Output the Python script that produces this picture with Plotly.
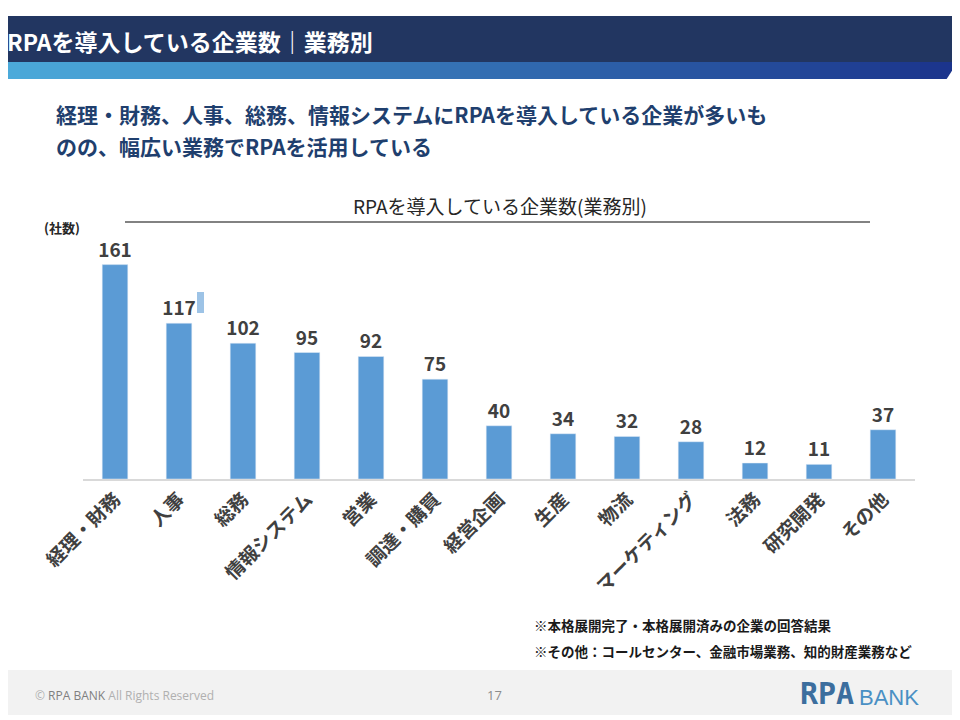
import plotly.graph_objects as go

# data
categories = ["経理・財務", "人事", "総務", "情報システム", "営業", "調達・購買", "経営企画",
              "生産", "物流", "マーケティング", "法務", "研究開発", "その他"]
companies = [161, 117, 102, 95, 92, 75, 40, 34, 32, 28, 12, 11, 37]

page_title = "RPAを導入している企業数｜業務別"
headline = ["経理・財務、人事、総務、情報システムにRPAを導入している企業が多いも",
            "のの、幅広い業務でRPAを活用している"]
chart_title = "RPAを導入している企業数(業務別)"
unit_label = "(社数)"
notes = ["※本格展開完了・本格展開済みの企業の回答結果",
         "※その他：コールセンター、金融市場業務、知的財産業務など"]

FONT = "Noto Sans CJK JP"
O = 8  # page body margin
W, H = 960 - O, 720 - O
L, R, T, B = 83 - O, 45, 222 - O, 241
plot_w = W - L - R
plot_h = H - T - B


def px(x):
    # screen pixel -> paper x
    return (x - O - L) / plot_w


def py(y):
    # screen pixel -> paper y
    return (H - B - (y - O)) / plot_h


fig = go.Figure()
fig.add_trace(go.Bar(
    x=categories, y=companies,
    marker=dict(color="#5B9BD5"),
    text=companies, textposition="outside", cliponaxis=False, constraintext="none",
    textfont=dict(family=FONT, size=19, color="#404040", weight="bold"),
    hoverinfo="x+y",
))

shapes = []
# header dark band
shapes.append(dict(type="rect", xref="paper", yref="paper", x0=px(0), x1=px(970),
                   y0=py(62), y1=py(16), fillcolor="#223661", line_width=0, layer="below"))
# gradient strip (stripes)
c0 = (76, 170, 218)
c1 = (27, 52, 140)
n = 48
for i in range(n):
    t = i / (n - 1)
    col = "rgb(%d,%d,%d)" % tuple(int(c0[k] + (c1[k] - c0[k]) * t) for k in range(3))
    shapes.append(dict(type="rect", xref="paper", yref="paper",
                       x0=px(960 * i / n), x1=px(960 * (i + 1) / n + 1),
                       y0=py(79), y1=py(62), fillcolor=col, line_width=0, layer="below"))
# diagonal cut at right end
shapes.append(dict(type="path", xref="paper", yref="paper",
                   path="M %f %f L %f %f L %f %f Z" % (px(962), py(55), px(962), py(80), px(946), py(80)),
                   fillcolor="white", line_width=0, layer="below"))
# chart title rule
shapes.append(dict(type="line", xref="paper", yref="paper", x0=px(125), x1=px(870),
                   y0=py(222), y1=py(222), line=dict(color="#595959", width=1.5)))
# small artefact next to 117
shapes.append(dict(type="rect", xref="paper", yref="paper", x0=px(197), x1=px(204),
                   y0=py(313), y1=py(292), fillcolor="#9DC3E6", line_width=0))
# footer band
shapes.append(dict(type="rect", xref="paper", yref="paper", x0=px(0), x1=px(970),
                   y0=py(715), y1=py(670), fillcolor="#F2F2F2", line_width=0, layer="below"))

annotations = [
    dict(text=page_title, x=px(5), y=py(41), xanchor="left", yanchor="middle",
         font=dict(family=FONT, size=23, color="white", weight="bold")),
    dict(text=headline[0], x=px(54), y=py(114), xanchor="left", yanchor="middle",
         font=dict(family=FONT, size=21, color="#1F3F6E", weight="bold")),
    dict(text=headline[1], x=px(54), y=py(146), xanchor="left", yanchor="middle",
         font=dict(family=FONT, size=21, color="#1F3F6E", weight="bold")),
    dict(text=chart_title, x=px(500), y=py(205), xanchor="center", yanchor="middle",
         font=dict(family=FONT, size=19, color="#262626")),
    dict(text=unit_label, x=px(42), y=py(227), xanchor="left", yanchor="middle",
         font=dict(family=FONT, size=13, color="#262626", weight="bold")),
    dict(text=notes[0], x=px(532), y=py(625), xanchor="left", yanchor="middle",
         font=dict(family=FONT, size=13.5, color="#1a1a1a", weight="bold")),
    dict(text=notes[1], x=px(532), y=py(651), xanchor="left", yanchor="middle",
         font=dict(family=FONT, size=13.5, color="#1a1a1a", weight="bold")),
    dict(text="© <span style='color:#7f7f7f'>RPA BANK</span> All Rights Reserved",
         x=px(33), y=py(695), xanchor="left", yanchor="middle",
         font=dict(family="Open Sans", size=12, color="#b0b0b0")),
    dict(text="17", x=px(494), y=py(695), xanchor="center", yanchor="middle",
         font=dict(family="Open Sans", size=13, color="#8c8c8c")),
    dict(text="<b>RPA</b>", x=px(856), y=py(693), xanchor="right", yanchor="middle",
         font=dict(family="DejaVu Sans Mono", size=30, color="#3C6E9E")),
    dict(text="BANK", x=px(857), y=py(697), xanchor="left", yanchor="middle",
         font=dict(family="Liberation Sans", size=22, color="#4A90C4")),
]
for a in annotations:
    a.update(xref="paper", yref="paper", showarrow=False)

fig.update_layout(
    width=W, height=H,
    margin=dict(l=L, r=R, t=T, b=B),
    paper_bgcolor="white", plot_bgcolor="white",
    showlegend=False,
    bargap=0.6,
    font=dict(family=FONT),
    shapes=shapes,
    annotations=annotations,
    xaxis=dict(tickangle=-45, showgrid=False, showline=True, linecolor="#D9D9D9", linewidth=1.5,
               ticks="", tickfont=dict(family=FONT, size=19, color="#404040", weight="bold")),
    yaxis=dict(range=[0, 193], visible=False),
)

fig.write_html("out.html")
